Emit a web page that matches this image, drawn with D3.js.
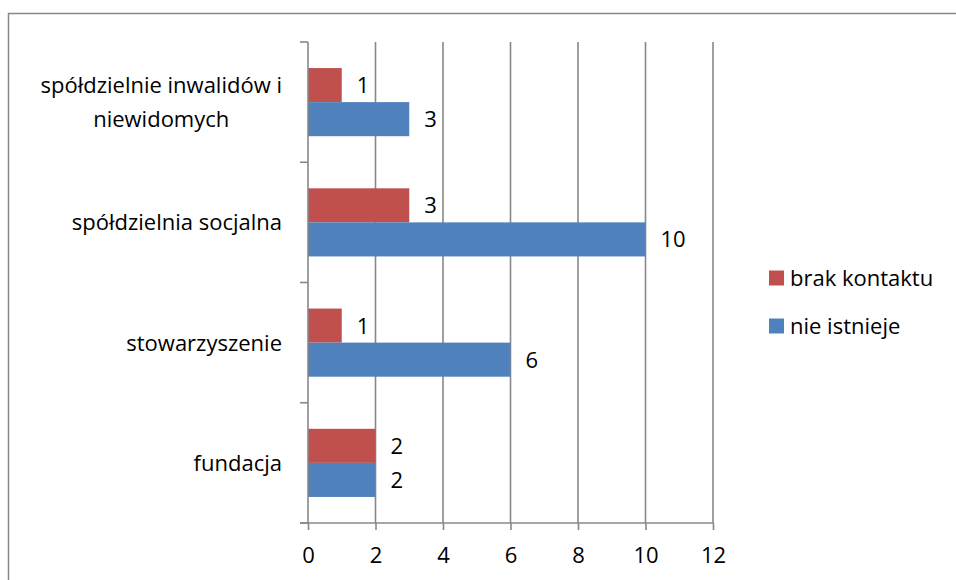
<!DOCTYPE html>
<html>
<head>
<meta charset="utf-8">
<script src="https://cdn.jsdelivr.net/npm/d3@7"></script>
<style>
  body { margin: 0; background: #fff; }
  svg text { font-family: "Open Sans", "Liberation Sans", sans-serif; fill: #000; }
</style>
</head>
<body>
<svg width="956" height="580"></svg>
<script>
const categories = ['fundacja', 'stowarzyszenie', 'spółdzielnia socjalna', 'spółdzielnie inwalidów i niewidomych'];
const categoryLines = [['fundacja'], ['stowarzyszenie'], ['spółdzielnia socjalna'], ['spółdzielnie inwalidów i', 'niewidomych']];
const seriesNames = ['brak kontaktu', 'nie istnieje'];
const brakKontaktu = [2, 1, 3, 1];
const nieIstnieje = [2, 6, 10, 3];
const xTicks = [0, 2, 4, 6, 8, 10, 12];
const colors = ['#C0504D', '#4F81BD'];

const fontSize = 22;
const svg = d3.select('svg');

// outer chart border
svg.append('rect')
    .attr('x', 8.5).attr('y', 13.5)
    .attr('width', 960).attr('height', 600)
    .attr('fill', 'none')
    .attr('stroke', '#888').attr('stroke-width', 1.5);

const plot = {left: 308, right: 713, top: 42, bottom: 523};

const x = d3.scaleLinear().domain([0, 12]).range([plot.left, plot.right]);
// categories bottom to top
const y = d3.scaleBand().domain(categories).range([plot.bottom, plot.top]);
const inner = d3.scaleBand().domain(seriesNames).range([0, y.bandwidth()]).paddingInner(0).paddingOuter(0.765);

// gridlines
svg.append('g')
  .selectAll('line')
  .data(xTicks.slice(1))
  .enter().append('line')
    .attr('x1', d => x(d)).attr('x2', d => x(d))
    .attr('y1', plot.top).attr('y2', plot.bottom)
    .attr('stroke', '#888').attr('stroke-width', 1.6);

// bars
const series = [brakKontaktu, nieIstnieje];
series.forEach((vals, si) => {
  const g = svg.append('g');
  g.selectAll('rect')
    .data(vals)
    .enter().append('rect')
      .attr('x', x(0))
      .attr('y', (d, i) => y(categories[i]) + inner(seriesNames[si]))
      .attr('width', d => x(d) - x(0))
      .attr('height', inner.bandwidth())
      .attr('fill', colors[si]);
  g.selectAll('text')
    .data(vals)
    .enter().append('text')
      .attr('x', d => x(d) + 15)
      .attr('y', (d, i) => y(categories[i]) + inner(seriesNames[si]) + inner.bandwidth() / 2)
      .attr('dy', '0.36em')
      .attr('font-size', fontSize)
      .text(d => d);
});

// x axis
const xAxis = svg.append('g')
    .attr('transform', `translate(0,${plot.bottom})`)
    .call(d3.axisBottom(x).tickValues(xTicks).tickSize(7).tickPadding(17));
xAxis.select('.domain').attr('stroke', '#888').attr('stroke-width', 1.6)
    .attr('d', `M${plot.left - 8},0H${plot.right}`);
xAxis.selectAll('.tick line').attr('stroke', '#888').attr('stroke-width', 1.6);
xAxis.selectAll('.tick text').attr('font-size', fontSize).attr('font-family', '"Open Sans", sans-serif').attr('fill', '#000');

// y axis
const yAxis = svg.append('g').attr('transform', `translate(${plot.left},0)`);
yAxis.append('line')
    .attr('x1', 0).attr('x2', 0).attr('y1', plot.top).attr('y2', plot.bottom)
    .attr('stroke', '#888').attr('stroke-width', 1.6);
const yEdges = categories.map(c => y(c)).concat([plot.bottom]);
yAxis.selectAll('line.tk')
  .data(yEdges)
  .enter().append('line')
    .attr('class', 'tk')
    .attr('x1', -8).attr('x2', 0)
    .attr('y1', d => d).attr('y2', d => d)
    .attr('stroke', '#888').attr('stroke-width', 1.6);

// category labels
categories.forEach((c, i) => {
  const lines = categoryLines[i];
  const cy = y(c) + y.bandwidth() / 2;
  const lh = 34;
  const t = svg.append('text')
      .attr('text-anchor', 'middle')
      .attr('font-size', fontSize);
  lines.forEach((ln, li) => {
    t.append('tspan')
      .attr('x', 0)
      .attr('y', cy + (li - (lines.length - 1) / 2) * lh)
      .attr('dy', '0.36em')
      .text(ln);
  });
  // right-align block to 282 while centering lines within block
  const bb = t.node().getBBox();
  t.attr('transform', `translate(${282 - bb.width / 2},0)`);
});

// legend
const legend = svg.append('g')
  .selectAll('g')
  .data(seriesNames)
  .enter().append('g')
    .attr('transform', (d, i) => `translate(769,${278 + i * 48})`);
legend.append('rect')
    .attr('x', 0).attr('y', -7.5)
    .attr('width', 15).attr('height', 15)
    .attr('fill', (d, i) => colors[i]);
legend.append('text')
    .attr('x', 21).attr('dy', '0.36em')
    .attr('font-size', fontSize)
    .text(d => d);
</script>
</body>
</html>
